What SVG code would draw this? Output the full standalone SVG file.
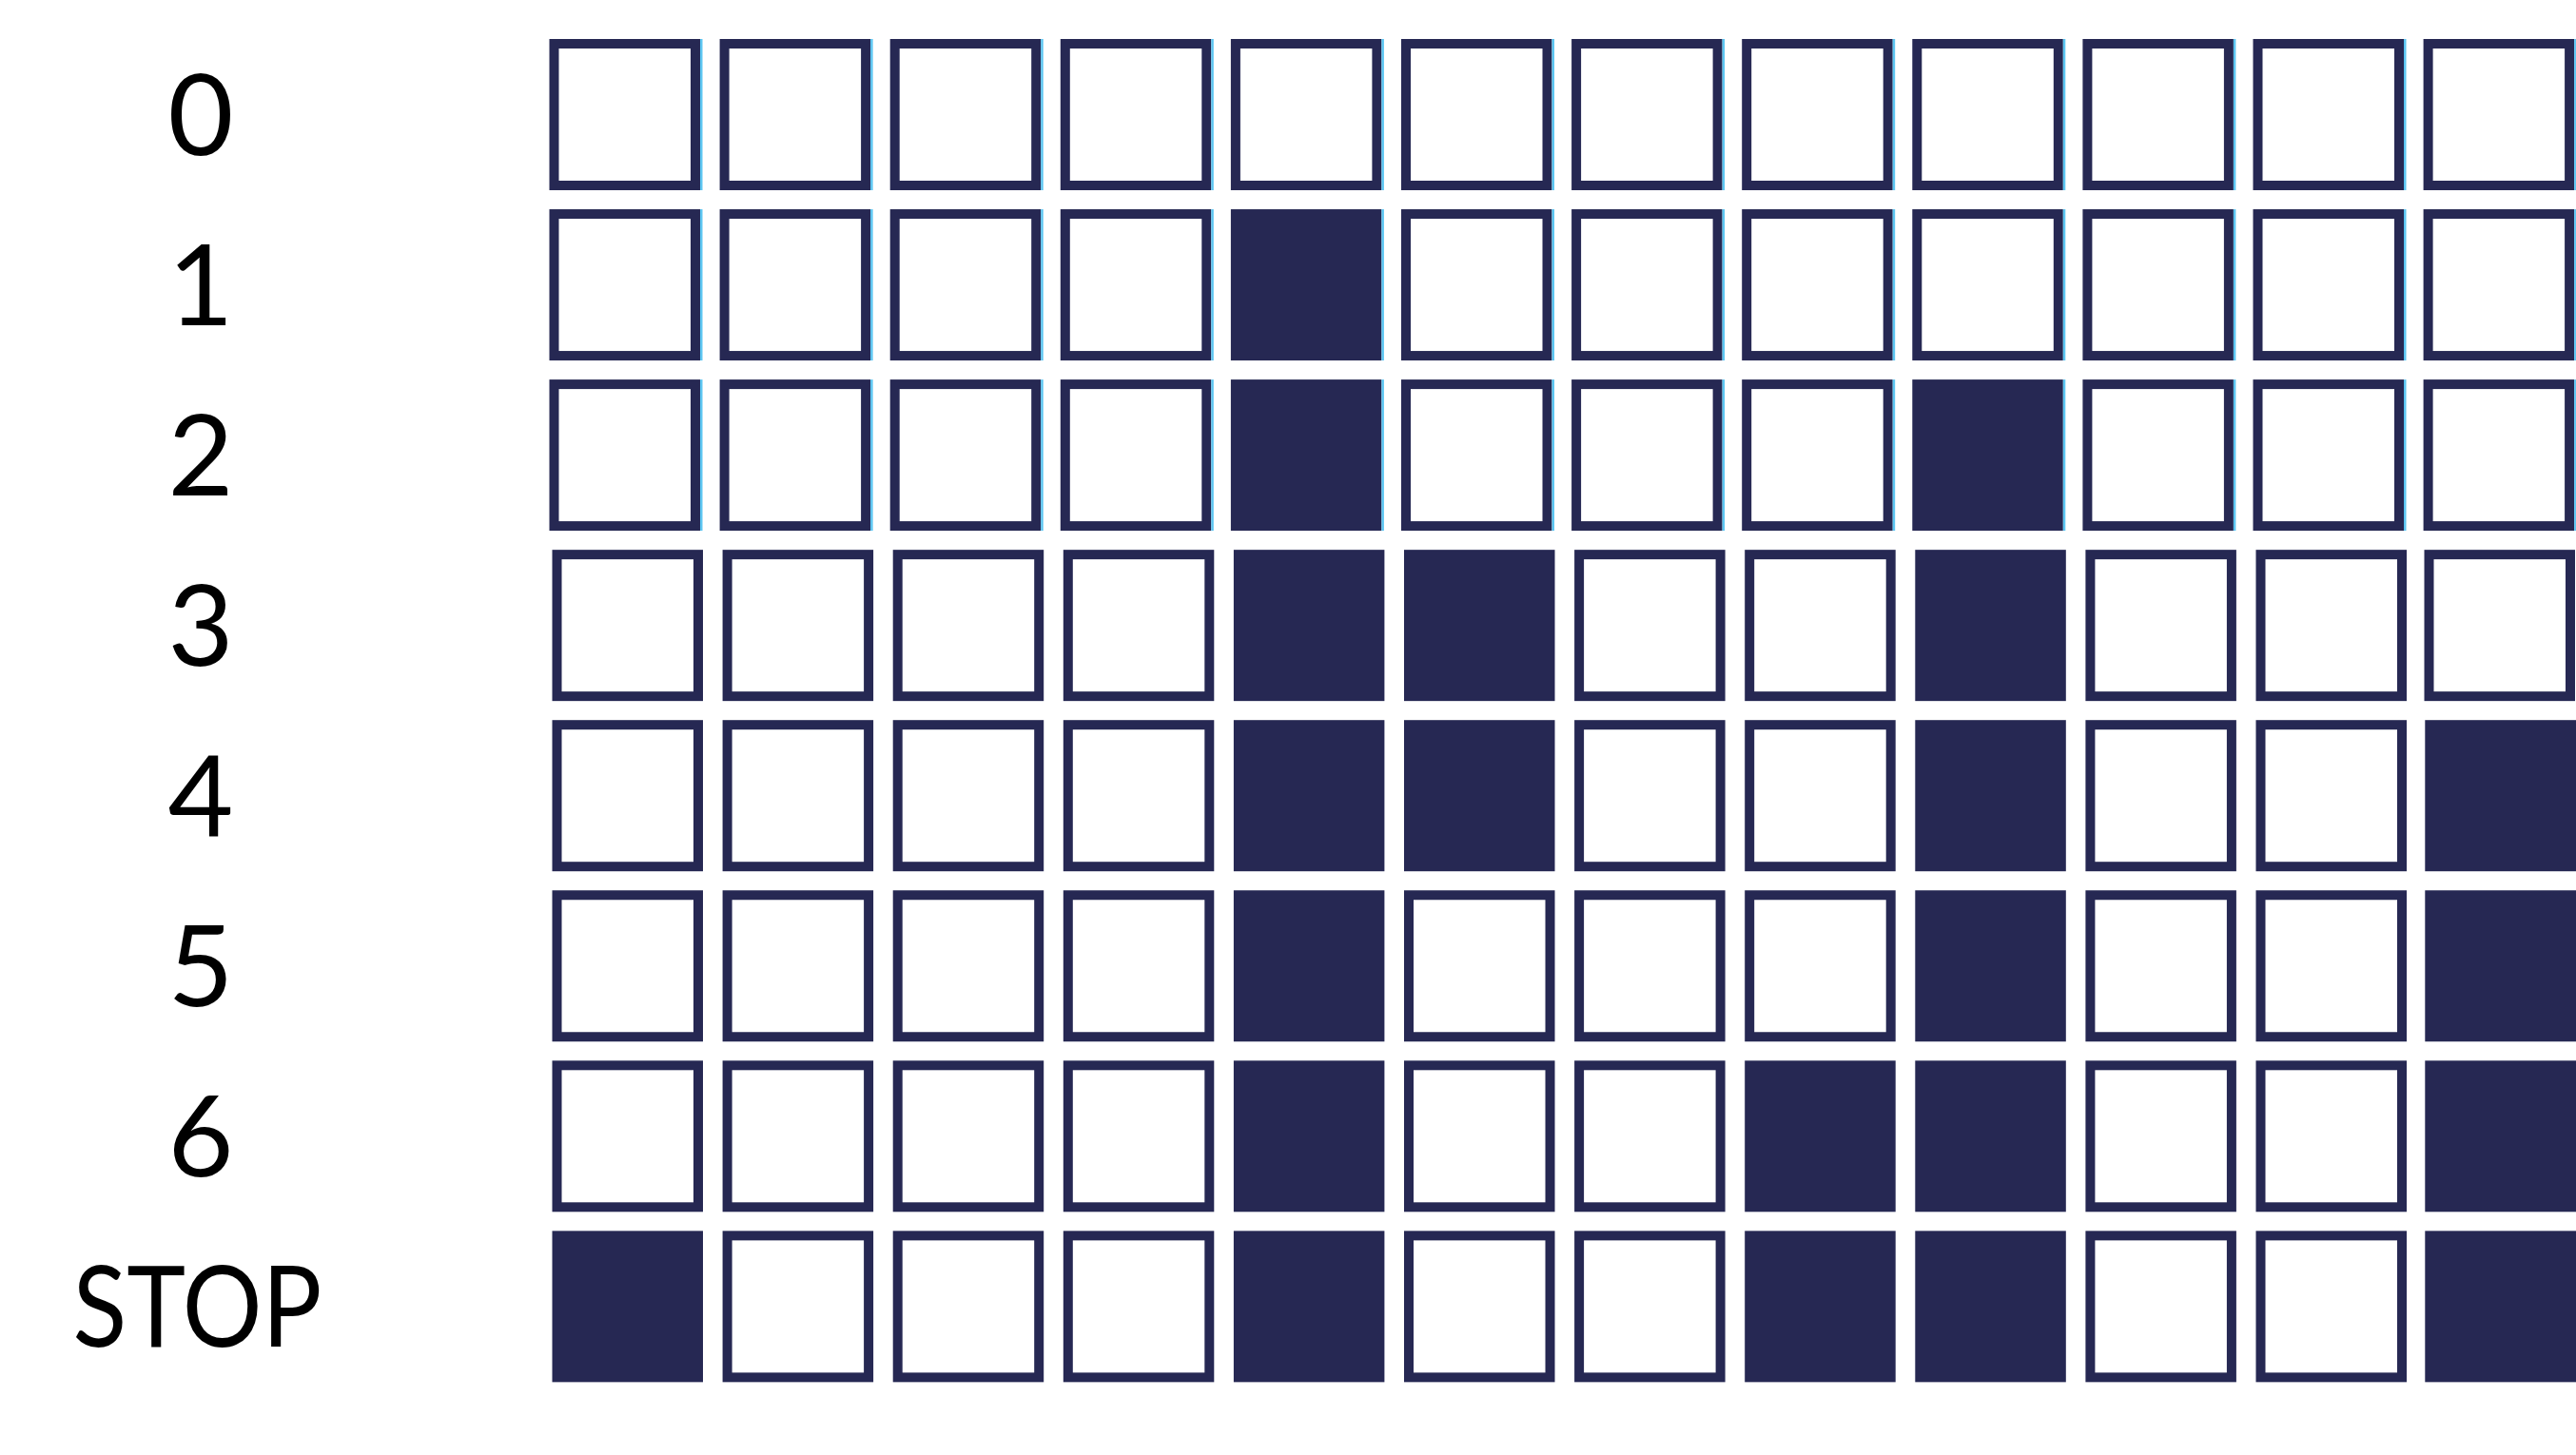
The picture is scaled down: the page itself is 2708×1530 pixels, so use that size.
<svg xmlns="http://www.w3.org/2000/svg" width="2708" height="1530" viewBox="0 0 2708 1530">
<style>
.bg{fill:#ffffff}
.e{fill:#ffffff;stroke:#262853;stroke-width:10}
.f{fill:#262853}
.b{fill:#5CC6F2}
.lbl{font-family:Lato,"Liberation Sans",sans-serif;font-size:119px;fill:#000000;text-anchor:middle}
</style>
<rect class="bg" x="0" y="0" width="2708" height="1530"/>
<g id="row-0" transform="translate(0,41)">
<text class="lbl" x="211" y="122">0</text>
<g class="cells">
<rect class="e" x="582.5" y="5" width="148.5" height="149"/>
<rect class="e" x="761.6" y="5" width="148.5" height="149"/>
<rect class="e" x="940.7" y="5" width="148.5" height="149"/>
<rect class="e" x="1119.8" y="5" width="148.5" height="149"/>
<rect class="e" x="1298.9" y="5" width="148.5" height="149"/>
<rect class="e" x="1478" y="5" width="148.5" height="149"/>
<rect class="e" x="1657.1" y="5" width="148.5" height="149"/>
<rect class="e" x="1836.2" y="5" width="148.5" height="149"/>
<rect class="e" x="2015.3" y="5" width="148.5" height="149"/>
<rect class="e" x="2194.4" y="5" width="148.5" height="149"/>
<rect class="e" x="2373.5" y="5" width="148.5" height="149"/>
<rect class="e" x="2552.6" y="5" width="148.5" height="149"/>
</g>
<g class="edges">
<rect class="b" x="736" y="0" width="2.5" height="159"/>
<rect class="b" x="915.1" y="0" width="2.5" height="159"/>
<rect class="b" x="1094.2" y="0" width="2.5" height="159"/>
<rect class="b" x="1273.3" y="0" width="2.5" height="159"/>
<rect class="b" x="1452.4" y="0" width="2.5" height="159"/>
<rect class="b" x="1631.5" y="0" width="2.5" height="159"/>
<rect class="b" x="1810.6" y="0" width="2.5" height="159"/>
<rect class="b" x="1989.7" y="0" width="2.5" height="159"/>
<rect class="b" x="2168.8" y="0" width="2.5" height="159"/>
<rect class="b" x="2347.9" y="0" width="2.5" height="159"/>
<rect class="b" x="2527" y="0" width="2.5" height="159"/>
<rect class="b" x="2706.1" y="0" width="2.5" height="159"/>
</g>
</g>
<g id="row-1" transform="translate(0,220.05)">
<text class="lbl" x="211" y="122">1</text>
<g class="cells">
<rect class="e" x="582.5" y="5" width="148.5" height="149"/>
<rect class="e" x="761.6" y="5" width="148.5" height="149"/>
<rect class="e" x="940.7" y="5" width="148.5" height="149"/>
<rect class="e" x="1119.8" y="5" width="148.5" height="149"/>
<rect class="f" x="1293.9" y="0" width="158.5" height="159"/>
<rect class="e" x="1478" y="5" width="148.5" height="149"/>
<rect class="e" x="1657.1" y="5" width="148.5" height="149"/>
<rect class="e" x="1836.2" y="5" width="148.5" height="149"/>
<rect class="e" x="2015.3" y="5" width="148.5" height="149"/>
<rect class="e" x="2194.4" y="5" width="148.5" height="149"/>
<rect class="e" x="2373.5" y="5" width="148.5" height="149"/>
<rect class="e" x="2552.6" y="5" width="148.5" height="149"/>
</g>
<g class="edges">
<rect class="b" x="736" y="0" width="2.5" height="159"/>
<rect class="b" x="915.1" y="0" width="2.5" height="159"/>
<rect class="b" x="1094.2" y="0" width="2.5" height="159"/>
<rect class="b" x="1273.3" y="0" width="2.5" height="159"/>
<rect class="b" x="1452.4" y="0" width="2.5" height="159"/>
<rect class="b" x="1631.5" y="0" width="2.5" height="159"/>
<rect class="b" x="1810.6" y="0" width="2.5" height="159"/>
<rect class="b" x="1989.7" y="0" width="2.5" height="159"/>
<rect class="b" x="2168.8" y="0" width="2.5" height="159"/>
<rect class="b" x="2347.9" y="0" width="2.5" height="159"/>
<rect class="b" x="2527" y="0" width="2.5" height="159"/>
<rect class="b" x="2706.1" y="0" width="2.5" height="159"/>
</g>
</g>
<g id="row-2" transform="translate(0,399.1)">
<text class="lbl" x="211" y="122">2</text>
<g class="cells">
<rect class="e" x="582.5" y="5" width="148.5" height="149"/>
<rect class="e" x="761.6" y="5" width="148.5" height="149"/>
<rect class="e" x="940.7" y="5" width="148.5" height="149"/>
<rect class="e" x="1119.8" y="5" width="148.5" height="149"/>
<rect class="f" x="1293.9" y="0" width="158.5" height="159"/>
<rect class="e" x="1478" y="5" width="148.5" height="149"/>
<rect class="e" x="1657.1" y="5" width="148.5" height="149"/>
<rect class="e" x="1836.2" y="5" width="148.5" height="149"/>
<rect class="f" x="2010.3" y="0" width="158.5" height="159"/>
<rect class="e" x="2194.4" y="5" width="148.5" height="149"/>
<rect class="e" x="2373.5" y="5" width="148.5" height="149"/>
<rect class="e" x="2552.6" y="5" width="148.5" height="149"/>
</g>
<g class="edges">
<rect class="b" x="736" y="0" width="2.5" height="159"/>
<rect class="b" x="915.1" y="0" width="2.5" height="159"/>
<rect class="b" x="1094.2" y="0" width="2.5" height="159"/>
<rect class="b" x="1273.3" y="0" width="2.5" height="159"/>
<rect class="b" x="1452.4" y="0" width="2.5" height="159"/>
<rect class="b" x="1631.5" y="0" width="2.5" height="159"/>
<rect class="b" x="1810.6" y="0" width="2.5" height="159"/>
<rect class="b" x="1989.7" y="0" width="2.5" height="159"/>
<rect class="b" x="2168.8" y="0" width="2.5" height="159"/>
<rect class="b" x="2347.9" y="0" width="2.5" height="159"/>
<rect class="b" x="2527" y="0" width="2.5" height="159"/>
<rect class="b" x="2706.1" y="0" width="2.5" height="159"/>
</g>
</g>
<g id="row-3" transform="translate(0,578.15)">
<text class="lbl" x="211" y="122">3</text>
<g class="cells">
<rect class="e" x="585.5" y="5" width="148.5" height="149"/>
<rect class="e" x="764.6" y="5" width="148.5" height="149"/>
<rect class="e" x="943.7" y="5" width="148.5" height="149"/>
<rect class="e" x="1122.8" y="5" width="148.5" height="149"/>
<rect class="f" x="1296.9" y="0" width="158.5" height="159"/>
<rect class="f" x="1476" y="0" width="158.5" height="159"/>
<rect class="e" x="1660.1" y="5" width="148.5" height="149"/>
<rect class="e" x="1839.2" y="5" width="148.5" height="149"/>
<rect class="f" x="2013.3" y="0" width="158.5" height="159"/>
<rect class="e" x="2197.4" y="5" width="148.5" height="149"/>
<rect class="e" x="2376.5" y="5" width="148.5" height="149"/>
<rect class="e" x="2553.5" y="5" width="148.5" height="149"/>
</g>
</g>
<g id="row-4" transform="translate(0,757.2)">
<text class="lbl" x="211" y="122">4</text>
<g class="cells">
<rect class="e" x="585.5" y="5" width="148.5" height="149"/>
<rect class="e" x="764.6" y="5" width="148.5" height="149"/>
<rect class="e" x="943.7" y="5" width="148.5" height="149"/>
<rect class="e" x="1122.8" y="5" width="148.5" height="149"/>
<rect class="f" x="1296.9" y="0" width="158.5" height="159"/>
<rect class="f" x="1476" y="0" width="158.5" height="159"/>
<rect class="e" x="1660.1" y="5" width="148.5" height="149"/>
<rect class="e" x="1839.2" y="5" width="148.5" height="149"/>
<rect class="f" x="2013.3" y="0" width="158.5" height="159"/>
<rect class="e" x="2197.4" y="5" width="148.5" height="149"/>
<rect class="e" x="2376.5" y="5" width="148.5" height="149"/>
<rect class="f" x="2549.3" y="0" width="158.7" height="159"/>
</g>
</g>
<g id="row-5" transform="translate(0,936.25)">
<text class="lbl" x="211" y="122">5</text>
<g class="cells">
<rect class="e" x="585.5" y="5" width="148.5" height="149"/>
<rect class="e" x="764.6" y="5" width="148.5" height="149"/>
<rect class="e" x="943.7" y="5" width="148.5" height="149"/>
<rect class="e" x="1122.8" y="5" width="148.5" height="149"/>
<rect class="f" x="1296.9" y="0" width="158.5" height="159"/>
<rect class="e" x="1481" y="5" width="148.5" height="149"/>
<rect class="e" x="1660.1" y="5" width="148.5" height="149"/>
<rect class="e" x="1839.2" y="5" width="148.5" height="149"/>
<rect class="f" x="2013.3" y="0" width="158.5" height="159"/>
<rect class="e" x="2197.4" y="5" width="148.5" height="149"/>
<rect class="e" x="2376.5" y="5" width="148.5" height="149"/>
<rect class="f" x="2549.3" y="0" width="158.7" height="159"/>
</g>
</g>
<g id="row-6" transform="translate(0,1115.3)">
<text class="lbl" x="211" y="122">6</text>
<g class="cells">
<rect class="e" x="585.5" y="5" width="148.5" height="149"/>
<rect class="e" x="764.6" y="5" width="148.5" height="149"/>
<rect class="e" x="943.7" y="5" width="148.5" height="149"/>
<rect class="e" x="1122.8" y="5" width="148.5" height="149"/>
<rect class="f" x="1296.9" y="0" width="158.5" height="159"/>
<rect class="e" x="1481" y="5" width="148.5" height="149"/>
<rect class="e" x="1660.1" y="5" width="148.5" height="149"/>
<rect class="f" x="1834.2" y="0" width="158.5" height="159"/>
<rect class="f" x="2013.3" y="0" width="158.5" height="159"/>
<rect class="e" x="2197.4" y="5" width="148.5" height="149"/>
<rect class="e" x="2376.5" y="5" width="148.5" height="149"/>
<rect class="f" x="2549.3" y="0" width="158.7" height="159"/>
</g>
</g>
<g id="row-stop" transform="translate(0,1294.35)">
<text class="lbl" x="207.5" y="122" textLength="262" lengthAdjust="spacingAndGlyphs">STOP</text>
<g class="cells">
<rect class="f" x="580.5" y="0" width="158.5" height="159"/>
<rect class="e" x="764.6" y="5" width="148.5" height="149"/>
<rect class="e" x="943.7" y="5" width="148.5" height="149"/>
<rect class="e" x="1122.8" y="5" width="148.5" height="149"/>
<rect class="f" x="1296.9" y="0" width="158.5" height="159"/>
<rect class="e" x="1481" y="5" width="148.5" height="149"/>
<rect class="e" x="1660.1" y="5" width="148.5" height="149"/>
<rect class="f" x="1834.2" y="0" width="158.5" height="159"/>
<rect class="f" x="2013.3" y="0" width="158.5" height="159"/>
<rect class="e" x="2197.4" y="5" width="148.5" height="149"/>
<rect class="e" x="2376.5" y="5" width="148.5" height="149"/>
<rect class="f" x="2549.3" y="0" width="158.7" height="159"/>
</g>
</g>
<g id="connectors"/>
</svg>
